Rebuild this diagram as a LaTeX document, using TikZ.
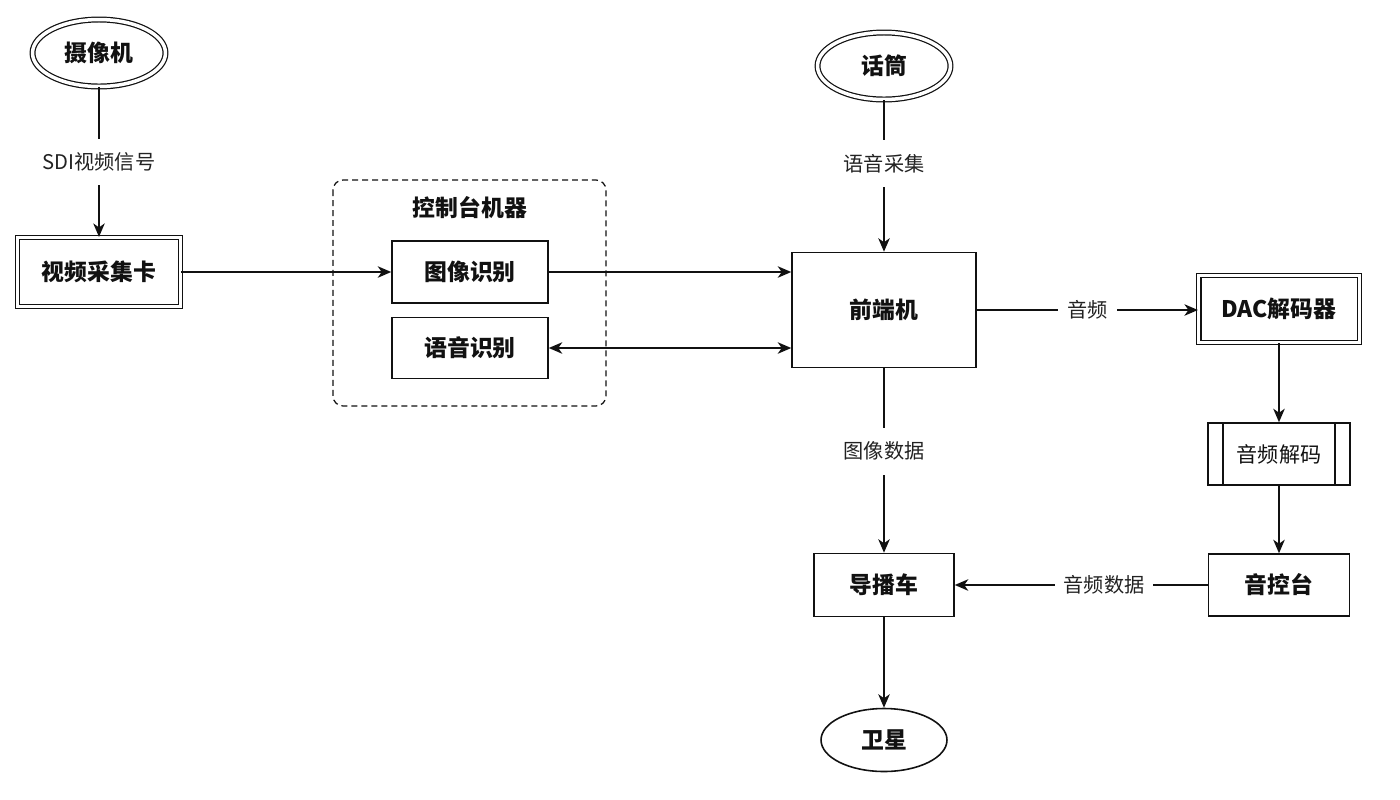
\documentclass[tikz,border=0pt]{standalone}
\usepackage{fontspec}
\setmainfont{Noto Sans CJK SC}
\usetikzlibrary{arrows.meta,shapes.geometric,calc}
\definecolor{Ink}{HTML}{111111}
\definecolor{Label}{HTML}{222222}

\begin{document}
\begin{tikzpicture}[x=0.02cm,y=-0.02cm,>={Stealth[length=0.27cm,width=0.23cm,inset=0.08cm]}]
\tikzset{
  unit/.style={draw=Ink,rectangle,line width=0.9pt,inner sep=0pt,font=\bfseries\fontsize{13}{15}\selectfont,text=Ink},
  dblunit/.style={unit,double,double distance=0.07cm,line width=0.7pt},
  source/.style={draw=Ink,ellipse,line width=0.9pt,inner sep=0pt,minimum width=2.66cm,minimum height=1.34cm,font=\bfseries\fontsize{13}{15}\selectfont,text=Ink},
  dblsource/.style={source,double,double distance=0.07cm,line width=0.7pt},
  link/.style={draw=Ink,line width=0.9pt},
  tag/.style={fill=white,inner xsep=0.18cm,inner ysep=0.28cm,font=\fontsize{11.5}{13}\selectfont,text=Label},
}
\useasboundingbox (0,0) rectangle (1400,799);
% control console group
\draw[Ink,line width=0.7pt,dash pattern=on 0.12cm off 0.08cm,rounded corners=0.2cm] (333,180) rectangle (606,406);
\node[font=\bfseries\fontsize{13}{15}\selectfont,text=Ink] (console) at (470,208) {控制台机器};
% nodes
\node[dblsource] (camera) at (99,53) {摄像机};
\node[dblunit,minimum width=3.26cm,minimum height=1.38cm] (capture) at (99,272) {视频采集卡};
\node[unit,minimum width=3.12cm,minimum height=1.24cm] (imgrec) at (470,272) {图像识别};
\node[unit,minimum width=3.12cm,minimum height=1.22cm] (voicerec) at (470,348) {语音识别};
\node[dblsource] (mic) at (884,66) {话筒};
\node[unit,minimum width=3.68cm,minimum height=2.3cm] (frontend) at (884,310) {前端机};
\node[unit,minimum width=2.8cm,minimum height=1.26cm] (van) at (884,585) {导播车};
\node[source,minimum width=2.52cm,minimum height=1.26cm] (satellite) at (884,740) {卫星};
\node[dblunit,minimum width=3.22cm,minimum height=1.34cm] (dac) at (1279,309) {DAC解码器};
\node[unit,minimum width=2.84cm,minimum height=1.24cm,font=\fontsize{12}{14}\selectfont] (audiodec) at (1279,454) {音频解码};
\draw[link] ([xshift=0.32cm]audiodec.north west) -- ([xshift=0.32cm]audiodec.south west);
\draw[link] ([xshift=-0.32cm]audiodec.north east) -- ([xshift=-0.32cm]audiodec.south east);
\node[unit,minimum width=2.82cm,minimum height=1.24cm] (mixer) at (1279,585) {音控台};
% connectors
\draw[link,->] (camera) -- node[tag] {SDI视频信号} (capture);
\draw[link,->] (capture) -- (imgrec);
\draw[link,->] (imgrec.east) -- (imgrec.east -| frontend.west);
\draw[link,<->] (voicerec.east) -- (voicerec.east -| frontend.west);
\draw[link,->] (mic) -- node[tag,pos=0.42] {语音采集} (frontend);
\draw[link,->] (frontend) -- node[tag,pos=0.45] {图像数据} (van);
\draw[link,->] (frontend.east) -- node[tag] {音频} (frontend.east -| dac.west);
\draw[link,->] (dac) -- (audiodec);
\draw[link,->] (audiodec) -- (mixer);
\draw[link,->] (mixer) -- node[tag,pos=0.41] {音频数据} (van);
\draw[link,->] (van) -- (satellite);
\end{tikzpicture}
\end{document}
